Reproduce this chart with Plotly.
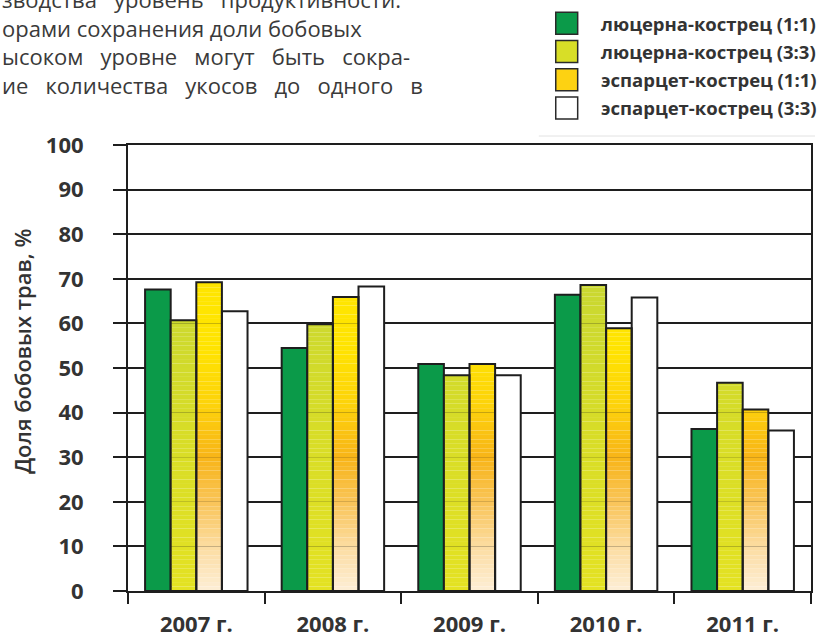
import plotly.graph_objects as go

# ---- data -------------------------------------------------------------
years = ["2007 г.", "2008 г.", "2009 г.", "2010 г.", "2011 г."]
series_names = [
    "люцерна-кострец (1:1)",
    "люцерна-кострец (3:3)",
    "эспарцет-кострец (1:1)",
    "эспарцет-кострец (3:3)",
]
lucerne_1_1 = [67.6, 54.5, 50.9, 66.4, 36.3]
lucerne_3_3 = [60.7, 59.8, 48.4, 68.6, 46.7]
sainfoin_1_1 = [69.2, 65.9, 50.9, 58.9, 40.7]
sainfoin_3_3 = [62.7, 68.3, 48.4, 65.8, 36.0]
y_ticks = list(range(0, 101, 10))

# running text of the page column (justified with extra no-break spaces)
NB = "\u00a0"
body_lines = [
    ("зводства", "уровень", "продуктивности."),
    ("орами", "сохранения", "доли", "бобовых"),
    ("ысоком", "уровне", "могут", "быть", "сокра-"),
    ("ие", "количества", "укосов", "до", "одного", "в"),
]
gap_pad = [2, 0, 2, 2]

# ---- page geometry ----------------------------------------------------
W, H = 817, 642
L, R, T, B = 128, 4, 145, 50
FONT = "Open Sans"
INK = "#333333"
LINE = "#1e1e1e"


def px(x):
    return (x - L) / (W - L - R)


def py(y):
    return (H - B - y) / (H - T - B)


def hex_rgb(h):
    h = h.lstrip("#")
    return tuple(int(h[i:i + 2], 16) for i in (0, 2, 4))


def ramp(stops, v):
    """Linear colour ramp over the value axis."""
    for (v0, c0), (v1, c1) in zip(stops, stops[1:]):
        if v0 <= v <= v1:
            t = (v - v0) / (v1 - v0)
            a, b = hex_rgb(c0), hex_rgb(c1)
            return "rgb(%d,%d,%d)" % tuple(round(a[i] + (b[i] - a[i]) * t) for i in range(3))
    return stops[-1][1]


green = "#0b9a49"
yg_stops = [(0, "#e4e222"), (40, "#d6dc28"), (100, "#bcd33a")]
yo_stops = [(0, "#fdeed6"), (10, "#fcdca0"), (20, "#f9c457"), (30, "#f8b518"),
            (42, "#fdd30a"), (55, "#ffe400"), (100, "#ffe800")]

fig = go.Figure()

# solid green series
fig.add_trace(go.Bar(x=years, y=lucerne_1_1, name=series_names[0], offsetgroup="1",
                     marker=dict(color=green, line=dict(color=LINE, width=2))))

# gradient-filled series: thin stacked slices, then an outline on top
STEP = 1.0


def slices(values, stops, group):
    k = 0
    while k * STEP < max(values):
        lo = k * STEP
        h = [min(STEP, v - lo) if v > lo else None for v in values]
        fig.add_trace(go.Bar(x=years, y=h, base=lo, offsetgroup=group,
                             marker=dict(color=ramp(stops, lo + STEP / 2), line=dict(width=0)),
                             hoverinfo="skip", showlegend=False))
        k += 1


slices(lucerne_3_3, yg_stops, "2")
slices(sainfoin_1_1, yo_stops, "3")

fig.add_trace(go.Bar(x=years, y=sainfoin_3_3, name=series_names[3], offsetgroup="4",
                     marker=dict(color="white", line=dict(color=LINE, width=2))))
fig.add_trace(go.Bar(x=years, y=lucerne_3_3, name=series_names[1], offsetgroup="2",
                     marker=dict(color="rgba(0,0,0,0)", line=dict(color=LINE, width=2))))
fig.add_trace(go.Bar(x=years, y=sainfoin_1_1, name=series_names[2], offsetgroup="3",
                     marker=dict(color="rgba(0,0,0,0)", line=dict(color=LINE, width=2))))

# ---- legend block -----------------------------------------------------
legend_fill = [green, "#d8de27", "#fdd212", "#ffffff"]
shapes = []
annotations = []
for i, (name, col) in enumerate(zip(series_names, legend_fill)):
    cy = 23 + i * 28.3
    shapes.append(dict(type="rect", xref="paper", yref="paper",
                       x0=px(557), x1=px(579), y0=py(cy - 11), y1=py(cy + 11),
                       fillcolor=col, line=dict(color="#2a2a2a", width=1.5)))
    annotations.append(dict(xref="paper", yref="paper", x=px(600), y=py(cy),
                            xanchor="left", yanchor="middle", showarrow=False,
                            text=name, font=dict(family=FONT, size=18.5, color=INK, weight="bold")))
shapes.append(dict(type="line", xref="paper", yref="paper", x0=px(540), x1=px(817),
                   y0=py(136), y1=py(136), line=dict(color="#e2e2e2", width=1)))

# ---- running text above the chart ------------------------------------
text_block = "<br>".join((" " + NB * p).join(words) for words, p in zip(body_lines, gap_pad))
annotations.append(dict(xref="paper", yref="paper", x=px(0), y=py(42),
                        xanchor="left", yanchor="middle", align="left", showarrow=False,
                        text=text_block, font=dict(family=FONT, size=22, color="#3a3a3a")))

# axis title
annotations.append(dict(xref="paper", yref="paper", x=px(21), y=py(352),
                        xanchor="center", yanchor="middle", showarrow=False, textangle=-90,
                        text="Доля бобовых трав, %",
                        font=dict(family=FONT, size=22, color=INK, weight=600)))

fig.update_layout(
    width=W, height=H,
    margin=dict(l=L, r=R, t=T, b=B, pad=0),
    paper_bgcolor="white", plot_bgcolor="white",
    barmode="group", bargap=0.25, bargroupgap=0,
    showlegend=False,
    shapes=shapes, annotations=annotations,
    font=dict(family=FONT, color=INK),
)
fig.update_xaxes(
    type="category", categoryorder="array", categoryarray=years,
    tickson="boundaries", ticks="outside", ticklen=11, tickwidth=2, tickcolor=LINE,
    showline=True, linecolor=LINE, linewidth=2, mirror=True, showgrid=False,
    ticklabelstandoff=13,
    tickfont=dict(family=FONT, size=22, color=INK, weight="bold"),
)
fig.update_yaxes(
    range=[0, 100], tickvals=y_ticks, ticks="outside", ticklen=13, tickwidth=2,
    tickcolor=LINE, showline=True, linecolor=LINE, linewidth=2, mirror=True,
    showgrid=True, gridcolor=LINE, gridwidth=2, zeroline=False,
    ticklabelstandoff=25,
    tickfont=dict(family=FONT, size=22, color=INK, weight="bold"),
)

fig.write_html("out.html")
